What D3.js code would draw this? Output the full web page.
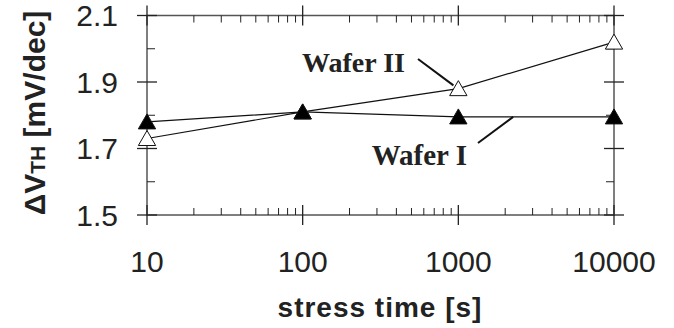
<!DOCTYPE html>
<html>
    <head>
        <title>Delta VTH vs stress time</title>
        <style>
            body { margin: 0; background: #fff; }
            text { font-family: "Liberation Sans", Arial, sans-serif; }
            .wafer-label { font-family: "Liberation Serif", "Times New Roman", serif; font-weight: bold; }
        </style>
    </head>

    <body>
        <div id="chart"></div>

        <script src="https://cdn.jsdelivr.net/npm/d3@7"></script>
        <script>
            // data
            var times = [10, 100, 1000, 10000];
            var waferI = [1.78, 1.81, 1.795, 1.795];
            var waferII = [1.73, 1.81, 1.88, 2.02];
            var xTickLabels = ["10", "100", "1000", "10000"];
            var yTickLabels = [1.5, 1.7, 1.9, 2.1];
            var yMinorTicks = [1.6, 1.8, 2.0];

            var w = 674, h = 328;
            var box = { l: 147, r: 614, t: 15.5, b: 215 };

            var svg = d3.select("#chart").append("svg")
                .attr("width", w)
                .attr("height", h);

            var x = d3.scaleLog().domain([10, 10000]).range([box.l, box.r]);
            var y = d3.scaleLinear().domain([1.5, 2.1]).range([box.b, box.t]);

            // minor x ticks 20..90, 200..900, 2000..9000
            var xMinor = [];
            [10, 100, 1000].forEach(function(d) {
                for (var k = 2; k <= 9; k++) xMinor.push(d * k);
            });

            var frame = svg.append("g");
            frame.append("rect")
                .attr("x", box.l).attr("y", box.t)
                .attr("width", box.r - box.l).attr("height", box.b - box.t)
                .style("fill", "none").style("stroke", "#555").style("stroke-width", 1.5);

            // major ticks cross the frame, minor ticks point inside
            var ticks = svg.append("g").style("stroke", "#222");
            [box.t, box.b].forEach(function(yy, side) {
                var dir = side === 0 ? 1 : -1;
                ticks.selectAll(null).data(times).enter().append("line")
                    .attr("x1", function(d) { return x(d); })
                    .attr("x2", function(d) { return x(d); })
                    .attr("y1", yy - 10).attr("y2", yy + 10)
                    .style("stroke-width", 1.3);
                ticks.selectAll(null).data(xMinor).enter().append("line")
                    .attr("x1", function(d) { return x(d); })
                    .attr("x2", function(d) { return x(d); })
                    .attr("y1", yy).attr("y2", yy + dir * 7)
                    .style("stroke-width", 1);
            });
            [box.l, box.r].forEach(function(xx, side) {
                var dir = side === 0 ? 1 : -1;
                ticks.selectAll(null).data(yTickLabels).enter().append("line")
                    .attr("y1", function(d) { return y(d); })
                    .attr("y2", function(d) { return y(d); })
                    .attr("x1", xx - 10).attr("x2", xx + 10)
                    .style("stroke-width", 1.3);
                ticks.selectAll(null).data(yMinorTicks).enter().append("line")
                    .attr("y1", function(d) { return y(d); })
                    .attr("y2", function(d) { return y(d); })
                    .attr("x1", xx).attr("x2", xx + dir * 8)
                    .style("stroke-width", 1);
            });

            // tick labels
            svg.selectAll(".xlab").data(times).enter().append("text")
                .attr("class", "xlab")
                .attr("x", function(d) { return x(d); })
                .attr("y", 272)
                .attr("text-anchor", "middle")
                .style("font-size", "30px")
                .style("fill", "#222")
                .text(function(d, i) { return xTickLabels[i]; });

            svg.selectAll(".ylab").data(yTickLabels).enter().append("text")
                .attr("class", "ylab")
                .attr("x", 118)
                .attr("y", function(d) { return y(d); })
                .attr("dy", "0.35em")
                .attr("text-anchor", "end")
                .style("font-size", "30px")
                .style("fill", "#222")
                .text(function(d) { return d.toFixed(1); });

            // axis titles
            svg.append("text")
                .attr("x", 380).attr("y", 317)
                .attr("text-anchor", "middle")
                .style("font-size", "28px")
                .style("font-weight", "bold")
                .style("letter-spacing", "1px")
                .style("fill", "#222")
                .text("stress time [s]");

            var yt = svg.append("text")
                .attr("transform", "translate(45,113) rotate(-90)")
                .attr("text-anchor", "middle")
                .style("font-size", "30px")
                .style("font-weight", "bold")
                .style("fill", "#222");
            yt.append("tspan").text("\u0394V");
            yt.append("tspan").style("font-size", "21px").text("TH");
            yt.append("tspan").text(" [mV/dec]");

            // series
            var line = d3.line()
                .x(function(d) { return x(d[0]); })
                .y(function(d) { return y(d[1]); });

            var tri = d3.symbol().type(d3.symbolTriangle).size(130);

            function drawSeries(vals, fill) {
                var pts = times.map(function(t, i) { return [t, vals[i]]; });
                svg.append("path")
                    .datum(pts)
                    .attr("d", line)
                    .style("fill", "none")
                    .style("stroke", "#111")
                    .style("stroke-width", 1.2);
                svg.selectAll(null).data(pts).enter().append("path")
                    .attr("d", tri)
                    .attr("transform", function(d) { return "translate(" + x(d[0]) + "," + (y(d[1]) + 2) + ")"; })
                    .style("fill", fill)
                    .style("stroke", "#111")
                    .style("stroke-width", 1);
            }
            drawSeries(waferII, "#fff");
            drawSeries(waferI, "#000");

            // annotations with leader lines
            var notes = [
                { text: "Wafer II", size: 28, tx: 405, ty: 72, from: [418, 59], to: [930, 1.89] },
                { text: "Wafer I", size: 29, tx: 467, ty: 165, from: [478, 143], to: [2250, 1.795] }
            ];
            notes.forEach(function(n) {
                svg.append("text")
                    .attr("class", "wafer-label")
                    .attr("x", n.tx).attr("y", n.ty)
                    .attr("text-anchor", "end")
                    .style("font-size", n.size + "px")
                    .style("fill", "#222")
                    .text(n.text);
                svg.append("line")
                    .attr("x1", n.from[0]).attr("y1", n.from[1])
                    .attr("x2", x(n.to[0])).attr("y2", y(n.to[1]))
                    .style("stroke", "#111")
                    .style("stroke-width", 2);
            });
        </script>
    </body>
</html>
